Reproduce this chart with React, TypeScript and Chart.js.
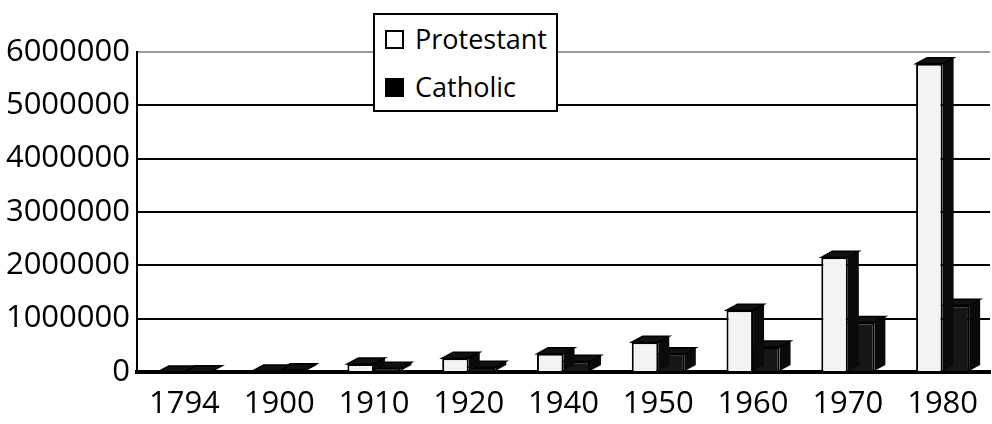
import React, { useEffect, useRef } from "react";
import { Chart, registerables } from "chart.js";

Chart.register(...registerables);

const categories = ["1794", "1900", "1910", "1920", "1940", "1950", "1960", "1970", "1980"];
const protestant = [0, 20000, 150000, 260000, 340000, 560000, 1160000, 2150000, 5780000];
const catholic = [4000, 42000, 70000, 90000, 200000, 340000, 470000, 930000, 1250000];
const seriesNames = ["Protestant", "Catholic"];
const yMax = 6000000;
const yStep = 1000000;

const FONT = "'Open Sans', 'DejaVu Sans', sans-serif";

const depthPlugin = {
  id: "depth3d",
  afterDatasetDraw(chart: any, args: any) {
    const ctx = chart.ctx;
    const meta = args.meta;
    const dx = 11;
    const dy = -6;
    ctx.save();
    meta.data.forEach((bar: any) => {
      const p = bar.getProps(["x", "y", "base", "width"], true);
      const left = p.x - p.width / 2;
      const right = p.x + p.width / 2;
      const top = p.y;
      const base = p.base;
      ctx.beginPath();
      ctx.moveTo(right, top);
      ctx.lineTo(right + dx, top + dy);
      ctx.lineTo(right + dx, base + dy);
      ctx.lineTo(right, base);
      ctx.closePath();
      ctx.fillStyle = "#0a0a0a";
      ctx.fill();
      ctx.beginPath();
      ctx.moveTo(left, top);
      ctx.lineTo(left + dx, top + dy);
      ctx.lineTo(right + dx, top + dy);
      ctx.lineTo(right, top);
      ctx.closePath();
      ctx.fillStyle = "#111";
      ctx.fill();
      ctx.lineWidth = 1.5;
      ctx.strokeStyle = "#000";
      ctx.stroke();
    });
    ctx.restore();
  },
};

export default function App() {
  const ref = useRef<HTMLCanvasElement | null>(null);

  useEffect(() => {
    if (!ref.current) return;
    const chart = new Chart(ref.current, {
      type: "bar",
      data: {
        labels: categories,
        datasets: [
          {
            label: seriesNames[0],
            data: protestant,
            backgroundColor: "#f3f3f3",
            borderColor: "#000",
            borderWidth: 2,
            categoryPercentage: 0.56,
            barPercentage: 1,
          },
          {
            label: seriesNames[1],
            data: catholic,
            backgroundColor: "#161616",
            borderColor: "#000",
            borderWidth: 2,
            categoryPercentage: 0.56,
            barPercentage: 1,
          },
        ],
      },
      options: {
        animation: false,
        responsive: false,
        maintainAspectRatio: false,
        layout: { padding: { top: 52, right: 2, left: 0, bottom: 0 } },
        plugins: {
          legend: { display: false },
          tooltip: { enabled: false },
        },
        scales: {
          x: {
            grid: { display: false },
            border: { display: true, color: "#000", width: 4 },
            ticks: {
              color: "#000",
              font: { family: FONT, size: 31 },
              padding: 6,
              maxRotation: 0,
            },
            afterFit: (s: any) => {
              s.height = 52;
            },
          },
          y: {
            min: 0,
            max: yMax,
            ticks: {
              stepSize: yStep,
              color: "#000",
              font: { family: FONT, size: 31 },
              padding: 7,
              callback: (v: any) => String(v),
            },
            grid: {
              color: (c: any) => (c.tick && c.tick.value === yMax ? "#9a9a9a" : "#000"),
              lineWidth: 2,
              drawTicks: false,
            },
            border: { display: true, color: "#000", width: 2 },
            afterFit: (s: any) => {
              s.width = 137;
            },
          },
        },
      },
      plugins: [depthPlugin],
    });
    return () => chart.destroy();
  }, []);

  return (
    <div style={{ position: "absolute", left: 0, top: 0, width: 992, height: 424, background: "#fff" }}>
      <canvas ref={ref} width={992} height={424} style={{ display: "block" }} />
      <div
        style={{
          position: "absolute",
          left: 373,
          top: 13,
          width: 181,
          height: 95,
          border: "2px solid #000",
          background: "#fff",
          fontFamily: FONT,
          fontSize: 27,
          color: "#000",
        }}
      >
        <div style={{ position: "absolute", left: 10, top: 15, width: 15, height: 15, border: "2px solid #000", background: "#fff" }} />
        <div style={{ position: "absolute", left: 40, top: 6, lineHeight: "36px", whiteSpace: "nowrap" }}>{seriesNames[0]}</div>
        <div style={{ position: "absolute", left: 10, top: 63, width: 19, height: 19, background: "#000" }} />
        <div style={{ position: "absolute", left: 40, top: 54, lineHeight: "36px", whiteSpace: "nowrap" }}>{seriesNames[1]}</div>
      </div>
    </div>
  );
}
